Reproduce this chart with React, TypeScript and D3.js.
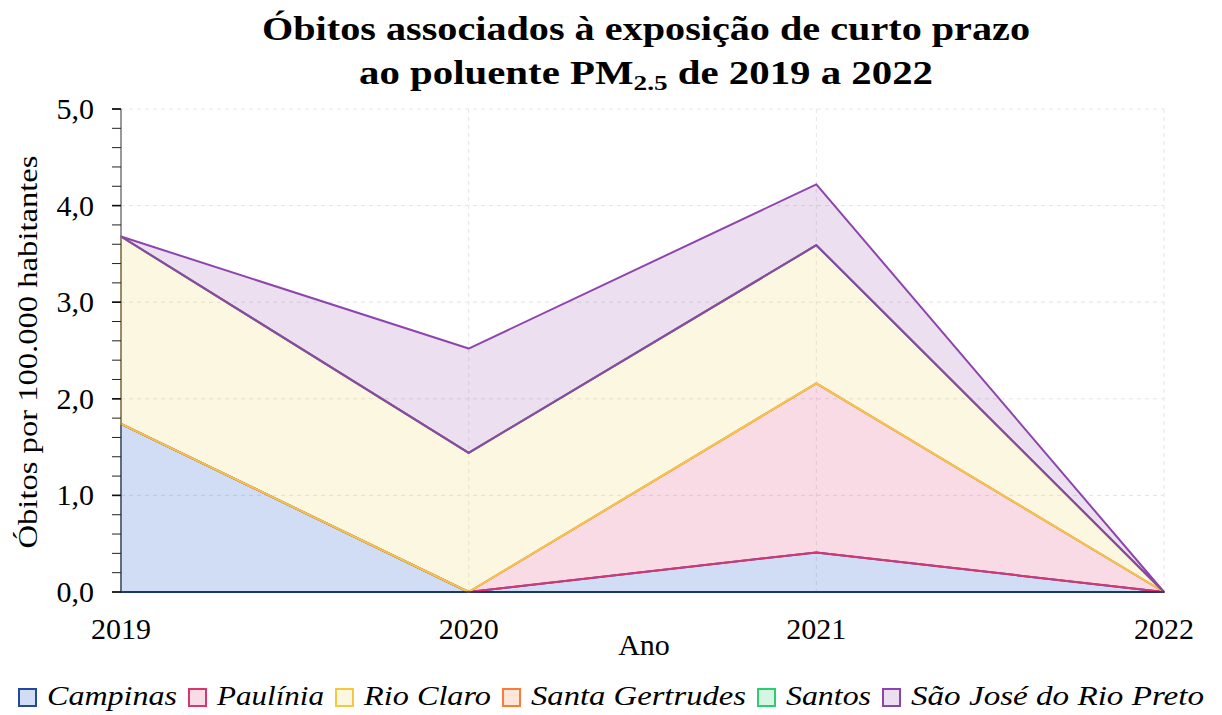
import { scaleLinear, stack, area, range } from "d3";

const years = [2019, 2020, 2021, 2022];
const cities = ["Campinas", "Paulínia", "Rio Claro", "Santa Gertrudes", "Santos", "São José do Rio Preto"];
const campinas = [1.74, 0, 0.41, 0];
const paulinia = [0, 0, 1.75, 0];
const rioClaro = [1.94, 1.44, 1.43, 0];
const santaGertrudes = [0, 0, 0, 0];
const santos = [0, 0, 0, 0];
const saoJose = [0, 1.08, 0.63, 0];
const yTicks = [0, 1, 2, 3, 4, 5];
const strokes = ["#2447a0", "#d9356f", "#f5c842", "#f97c3c", "#2ecc71", "#8e44ad"];
const fills = ["rgb(20,85,205)", "rgb(225,75,125)", "rgb(240,215,105)", "rgb(255,130,65)", "rgb(55,205,115)", "rgb(160,95,180)"];
const legendWidths = [130, 107, 127, 215, 85, 293];

const series = [campinas, paulinia, rioClaro, santaGertrudes, santos, saoJose];

export default function App() {
  const width = 1222,
    height = 715;
  const margin = { left: 121, right: 58, top: 109, bottom: 123 };
  const x = scaleLinear().domain([2019, 2022]).range([margin.left, width - margin.right]);
  const y = scaleLinear().domain([0, 5]).range([height - margin.bottom, margin.top]);

  const rows = years.map((yr, i) => {
    const r: any = { year: yr };
    cities.forEach((c, k) => (r[c] = series[k][i]));
    return r;
  });
  const layers = stack().keys(cities)(rows);
  const areaGen = area<any>()
    .x((d) => x(d.data.year))
    .y0((d) => y(d[0]))
    .y1((d) => y(d[1]));

  const minor = range(0, 5.001, 0.2);
  const font = "Liberation Serif";

  // legend layout
  let lx = 18;
  const legend = cities.map((c, i) => {
    const item = { name: c, x: lx, w: legendWidths[i], i };
    lx += 19 + 10 + legendWidths[i] + 11;
    return item;
  });

  return (
    <svg
      width={width}
      height={height}
      style={{ position: "absolute", left: 0, top: 0, background: "#fff" }}
      fontFamily={font}
    >
      {/* grid */}
      {yTicks.slice(1).map((t) => (
        <line key={"gy" + t} x1={x(2019)} x2={x(2022)} y1={y(t)} y2={y(t)} stroke="#e4e4e4" strokeDasharray="4 4" />
      ))}
      {years.slice(1).map((yr) => (
        <line key={"gx" + yr} x1={x(yr)} x2={x(yr)} y1={y(5)} y2={y(0)} stroke="#e4e4e4" strokeDasharray="4 4" />
      ))}

      {/* areas */}
      {layers.map((layer, i) => (
        <path
          key={layer.key}
          d={areaGen(layer as any) || ""}
          fill={fills[i]}
          fillOpacity={0.2}
          stroke={strokes[i]}
          strokeWidth={2}
          strokeLinejoin="round"
        />
      ))}

      {/* y axis */}
      <line x1={x(2019)} x2={x(2019)} y1={y(5)} y2={y(0)} stroke="#777" strokeWidth={1.5} />
      {minor.map((t) => (
        <line key={"mt" + t} x1={x(2019) - 9} x2={x(2019)} y1={y(t)} y2={y(t)} stroke="#222" strokeWidth={1} />
      ))}
      {yTicks.map((t) => (
        <g key={"yt" + t}>
          <line x1={x(2019) - 9} x2={x(2019)} y1={y(t)} y2={y(t)} stroke="#111" strokeWidth={1.6} />
          <text x={94} y={y(t)} dy="0.33em" textAnchor="end" fontSize={30}>
            {t.toFixed(1).replace(".", ",")}
          </text>
        </g>
      ))}
      <line x1={x(2019)} x2={x(2022)} y1={y(0)} y2={y(0)} stroke="#1a2f66" strokeWidth={1.5} />

      {/* x axis labels */}
      {years.map((yr) => (
        <text key={"xl" + yr} x={x(yr)} y={639} textAnchor="middle" fontSize={30}>
          {yr}
        </text>
      ))}
      <text x={644} y={655} textAnchor="middle" fontSize={30}>
        Ano
      </text>
      <text transform="translate(37,352) rotate(-90)" textAnchor="middle" fontSize={28} textLength={393} lengthAdjust="spacingAndGlyphs">
        Óbitos por 100.000 habitantes
      </text>

      {/* title */}
      <text x={646} y={40} textAnchor="middle" fontSize={33} fontWeight="bold" textLength={768} lengthAdjust="spacingAndGlyphs">
        Óbitos associados à exposição de curto prazo
      </text>
      <text x={646} y={84} textAnchor="middle" fontSize={33} fontWeight="bold" textLength={574} lengthAdjust="spacingAndGlyphs">
        ao poluente PM
        <tspan fontSize={22} dy={6}>2.5</tspan>
        <tspan dy={-6}> de 2019 a 2022</tspan>
      </text>

      {/* legend */}
      {legend.map((d) => (
        <g key={d.name} transform={`translate(${d.x},0)`}>
          <rect x={1} y={689} width={17} height={17} fill={fills[d.i]} fillOpacity={0.2} stroke={strokes[d.i]} strokeWidth={2} />
          <text x={29} y={705} fontSize={28} fontStyle="italic" textLength={d.w} lengthAdjust="spacingAndGlyphs">
            {d.name}
          </text>
        </g>
      ))}
    </svg>
  );
}
